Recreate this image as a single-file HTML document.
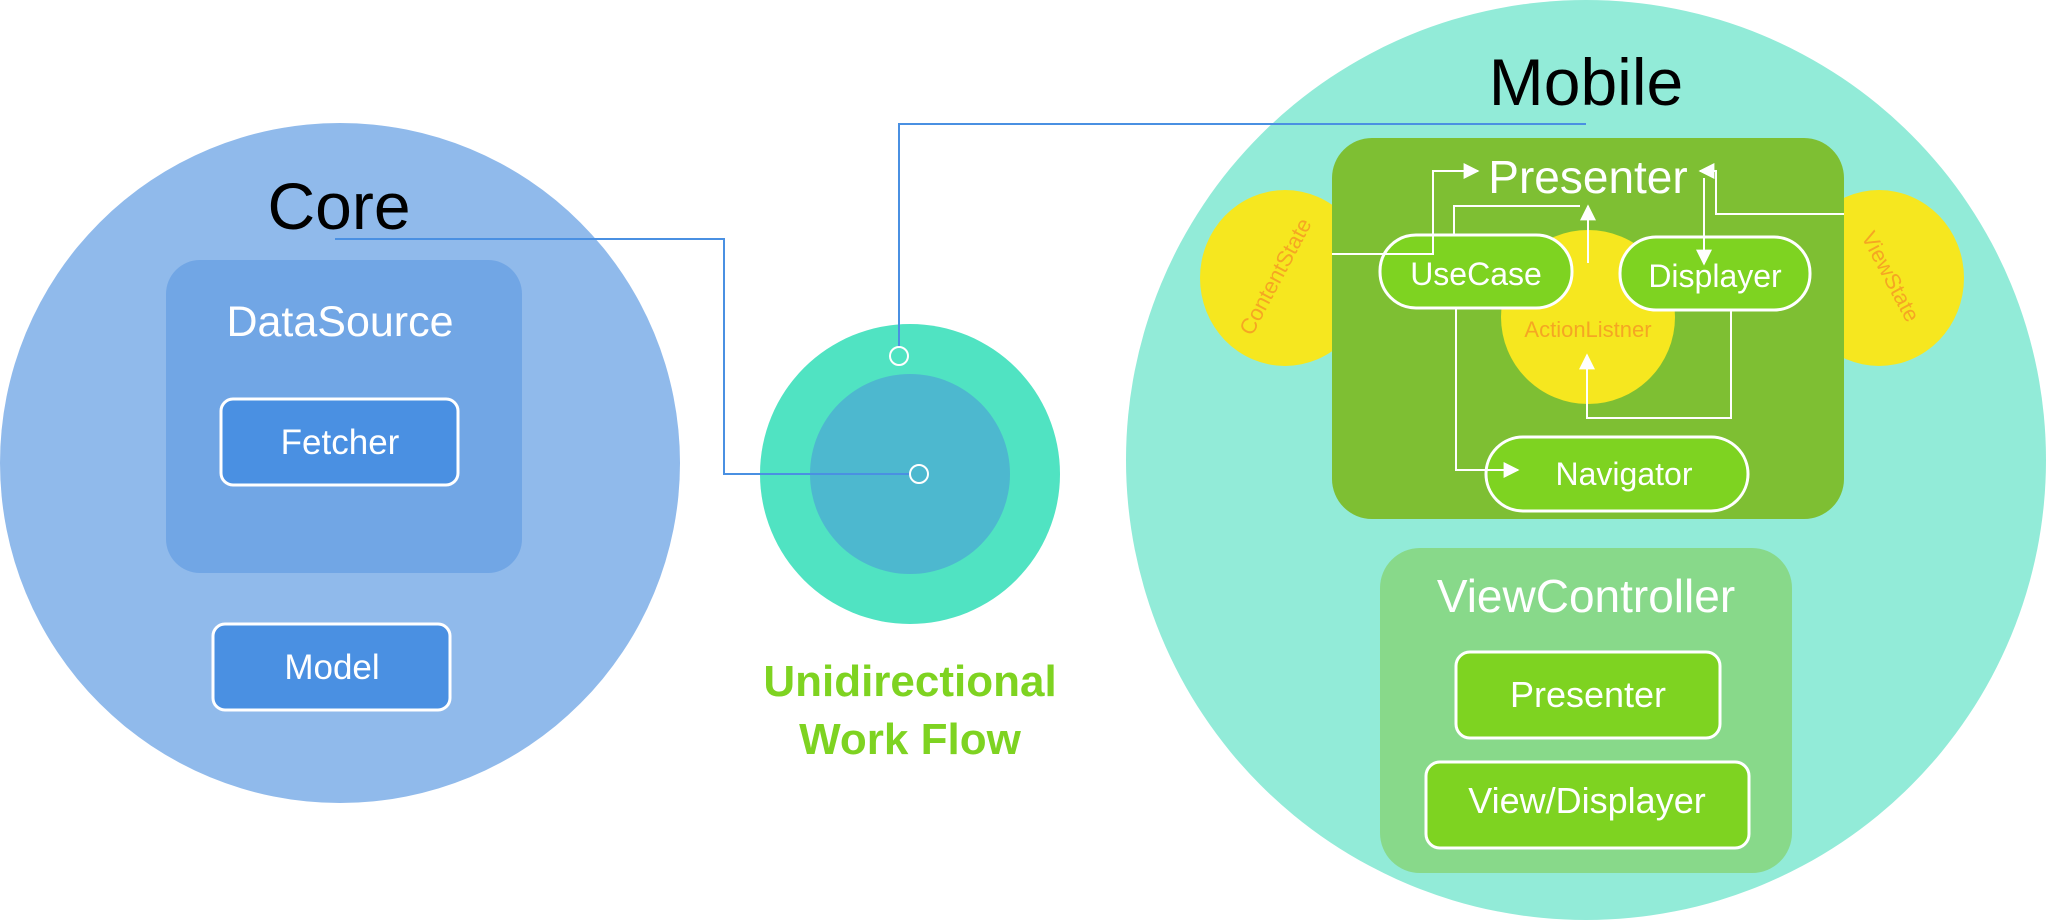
<!DOCTYPE html>
<html><head><meta charset="utf-8"><style>
html,body{margin:0;padding:0;background:#fff;}
svg{display:block;}
text{font-family:"Liberation Sans",sans-serif;}
</style></head><body>
<svg width="2046" height="920" viewBox="0 0 2046 920" xmlns="http://www.w3.org/2000/svg">
<defs>
<marker id="ah" viewBox="0 0 10 10" refX="9" refY="5" markerWidth="16" markerHeight="16" orient="auto" markerUnits="userSpaceOnUse">
<path d="M0,0 L10,5 L0,10 z" fill="#fff"/></marker>
</defs>
<!-- Core -->
<ellipse cx="340" cy="463" rx="340" ry="340" fill="#90BAEB"/>
<text x="339" y="229" font-size="66" text-anchor="middle" fill="#000">Core</text>
<rect x="166" y="260" width="356" height="313" rx="34" fill="#71A6E5"/>
<text x="340" y="336" font-size="43" text-anchor="middle" fill="#fff">DataSource</text>
<rect x="221" y="399" width="237" height="86" rx="12" fill="#4A90E2" stroke="#fff" stroke-width="3"/>
<text x="340" y="454" font-size="35" text-anchor="middle" fill="#fff">Fetcher</text>
<rect x="213" y="624" width="237" height="86" rx="12" fill="#4A90E2" stroke="#fff" stroke-width="3"/>
<text x="332" y="679" font-size="35" text-anchor="middle" fill="#fff">Model</text>

<!-- middle -->
<circle cx="910" cy="474" r="150" fill="#50E3C2"/>
<circle cx="910" cy="474" r="100" fill="#4DB8CF"/>
<text x="910" y="696" font-size="44" font-weight="bold" text-anchor="middle" fill="#7ED321">Unidirectional</text>
<text x="910" y="754" font-size="44" font-weight="bold" text-anchor="middle" fill="#7ED321">Work Flow</text>

<!-- Mobile -->
<circle cx="1586" cy="460" r="460" fill="#92EBD8"/>
<text x="1586" y="105" font-size="66" text-anchor="middle" fill="#000">Mobile</text>
<ellipse cx="1285" cy="278" rx="85" ry="88" fill="#F6E71F"/>
<ellipse cx="1879" cy="278" rx="85" ry="88" fill="#F6E71F"/>
<rect x="1332" y="138" width="512" height="381" rx="40" fill="#7EBF33"/>
<circle cx="1588" cy="317" r="87" fill="#F6E71F"/>
<text x="1588" y="337" font-size="22" text-anchor="middle" fill="#F5A623">ActionListner</text>
<text transform="translate(1282,280) rotate(-62)" font-size="22" text-anchor="middle" fill="#F5A623">ContentState</text>
<text transform="translate(1884,280) rotate(62)" font-size="22" text-anchor="middle" fill="#F5A623">ViewState</text>
<text x="1588" y="193" font-size="46" text-anchor="middle" fill="#fff">Presenter</text>

<rect x="1380" y="235" width="192" height="73" rx="36" fill="#7ED321" stroke="#fff" stroke-width="3"/>
<text x="1476" y="285" font-size="32" text-anchor="middle" fill="#fff">UseCase</text>
<rect x="1620" y="237" width="190" height="73" rx="36" fill="#7ED321" stroke="#fff" stroke-width="3"/>
<text x="1715" y="287" font-size="32" text-anchor="middle" fill="#fff">Displayer</text>
<rect x="1486" y="437" width="262" height="74" rx="37" fill="#7ED321" stroke="#fff" stroke-width="3"/>
<text x="1624" y="485" font-size="32" text-anchor="middle" fill="#fff">Navigator</text>

<g stroke="#fff" stroke-width="2" fill="none">
<polyline points="1332,254 1433,254 1433,171 1478,171" marker-end="url(#ah)"/>
<polyline points="1454,236 1454,206 1580,206"/>
<line x1="1588" y1="263" x2="1588" y2="206" marker-end="url(#ah)"/>
<polyline points="1844,214 1716,214 1716,171 1700,171" marker-end="url(#ah)"/>
<line x1="1704" y1="178" x2="1704" y2="264" marker-end="url(#ah)"/>
<polyline points="1731,310 1731,418 1587,418 1587,355" marker-end="url(#ah)"/>
<polyline points="1456,308 1456,470 1518,470" marker-end="url(#ah)"/>
</g>

<rect x="1380" y="548" width="412" height="325" rx="40" fill="#88D98A"/>
<text x="1586" y="612" font-size="46" text-anchor="middle" fill="#fff">ViewController</text>
<rect x="1456" y="652" width="264" height="86" rx="14" fill="#7ED321" stroke="#fff" stroke-width="3"/>
<text x="1588" y="707" font-size="36" text-anchor="middle" fill="#fff">Presenter</text>
<rect x="1426" y="762" width="323" height="86" rx="14" fill="#7ED321" stroke="#fff" stroke-width="3"/>
<text x="1587" y="813" font-size="36" text-anchor="middle" fill="#fff">View/Displayer</text>

<!-- connectors -->
<g stroke="#4A90E2" stroke-width="2" fill="none">
<polyline points="335,239 724,239 724,474 910,474"/>
<polyline points="899,346 899,124 1586,124"/>
</g>
<circle cx="919" cy="474" r="9" fill="none" stroke="#fff" stroke-width="2"/>
<circle cx="899" cy="356" r="9" fill="none" stroke="#fff" stroke-width="2"/>
</svg>
</body></html>
